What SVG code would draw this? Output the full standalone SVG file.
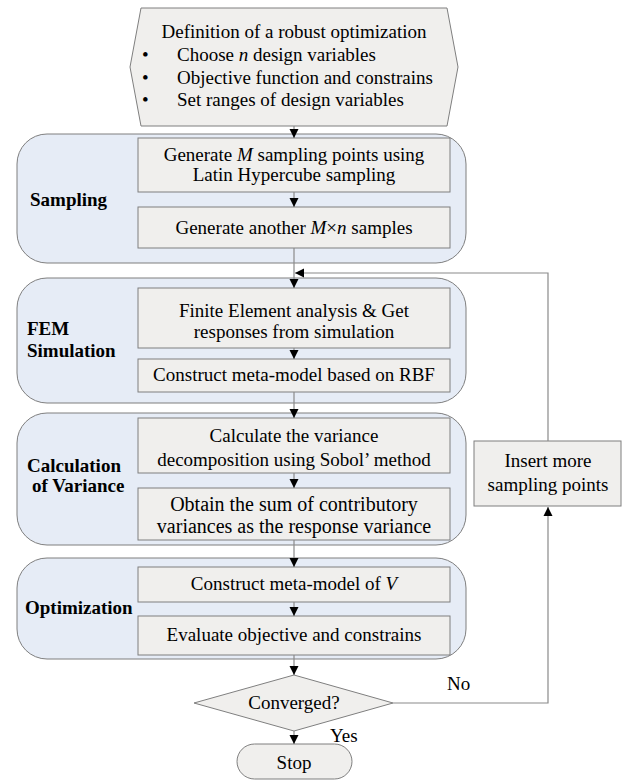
<svg xmlns="http://www.w3.org/2000/svg" width="624" height="780" viewBox="0 0 624 780" font-family="'Liberation Serif', 'DejaVu Serif', serif">
<style>
text{font-family:'Liberation Serif','DejaVu Serif',serif;font-size:19px;fill:#000}
.c{text-anchor:middle}
.b{font-weight:bold}
.panel{fill:#e6ecf6;stroke:#7f7f7f;stroke-width:1}
.box{fill:#f0efed;stroke:#7f7f7f;stroke-width:1}
.ln{fill:none;stroke:#8a8a8a;stroke-width:1.2}
</style>
<defs>
<marker id="ah" markerWidth="10" markerHeight="10" refX="9" refY="5" orient="auto" markerUnits="userSpaceOnUse">
<path d="M0,0.5 L9,5 L0,9.5 z" fill="#000"/>
</marker>
</defs>
<rect width="624" height="780" fill="#fff"/>
<g id="panels">
<rect id="p-sampling" class="panel" x="17" y="134" width="449" height="129" rx="30"/>
<rect id="p-fem" class="panel" x="17" y="278" width="449" height="125" rx="30"/>
<rect id="p-calc" class="panel" x="17" y="413" width="449" height="132" rx="30"/>
<rect id="p-opt" class="panel" x="17" y="558" width="449" height="101" rx="30"/>
<text class="b" x="30" y="206">Sampling</text>
<text class="b" x="27" y="335">FEM</text>
<text class="b" x="27" y="357">Simulation</text>
<text class="b" x="27" y="472">Calculation</text>
<text class="b" x="32" y="492">of Variance</text>
<text class="b" x="25" y="614">Optimization</text>
</g>
<g id="start">
<polygon class="box" points="141,8 447,8 458,67 447,126 141,126 130,67"/>
<text class="c" x="294" y="38">Definition of a robust optimization</text>
<text x="142" y="61">•</text><text x="177" y="61">Choose <tspan font-style="italic">n</tspan> design variables</text>
<text x="142" y="84">•</text><text x="177" y="84">Objective function and constrains</text>
<text x="142" y="106">•</text><text x="177" y="106">Set ranges of design variables</text>
</g>
<g id="box1"><rect class="box" x="138" y="138" width="312" height="54"/>
<text class="c" x="294" y="161">Generate <tspan font-style="italic">M</tspan> sampling points using</text>
<text class="c" x="294" y="181">Latin Hypercube sampling</text></g>
<g id="box2"><rect class="box" x="138" y="207" width="312" height="41"/>
<text class="c" x="294" y="234">Generate another <tspan font-style="italic">M</tspan>×<tspan font-style="italic">n</tspan> samples</text></g>
<g id="box3"><rect class="box" x="138" y="288" width="312" height="60"/>
<text class="c" x="294" y="317">Finite Element analysis &amp; Get</text>
<text class="c" x="294" y="338">responses from simulation</text></g>
<g id="box4"><rect class="box" x="138" y="359" width="312" height="33"/>
<text class="c" x="294" y="381">Construct meta-model based on RBF</text></g>
<g id="box5"><rect class="box" x="138" y="418" width="312" height="55"/>
<text class="c" x="294" y="442">Calculate the variance</text>
<text class="c" x="294" y="466">decomposition using Sobol’ method</text></g>
<g id="box6"><rect class="box" x="138" y="488" width="312" height="52"/>
<text class="c" x="294" y="511" style="font-size:20px">Obtain the sum of contributory</text>
<text class="c" x="294" y="533" style="font-size:20px">variances as the response variance</text></g>
<g id="box7"><rect class="box" x="138" y="567" width="312" height="35"/>
<text class="c" x="294" y="590">Construct meta-model of <tspan font-style="italic">V</tspan></text></g>
<g id="box8"><rect class="box" x="138" y="616" width="312" height="39"/>
<text class="c" x="294" y="641">Evaluate objective and constrains</text></g>
<g id="decision"><polygon class="box" points="294,675 393,703 294,731 194,703"/>
<text class="c" x="294" y="709">Converged?</text></g>
<g id="stop"><rect class="box" x="237" y="744" width="115" height="35" rx="17.5"/>
<text class="c" x="294" y="769">Stop</text></g>
<g id="insert"><rect class="box" x="474" y="441" width="147" height="65"/>
<text class="c" x="548" y="467">Insert more</text>
<text class="c" x="548" y="491">sampling points</text></g>
<g id="connectors">
<line class="ln" x1="294" y1="126" x2="294" y2="138" marker-end="url(#ah)"/>
<line class="ln" x1="294" y1="192" x2="294" y2="207" marker-end="url(#ah)"/>
<line class="ln" x1="294" y1="248" x2="294" y2="288" marker-end="url(#ah)"/>
<line class="ln" x1="294" y1="348" x2="294" y2="359" marker-end="url(#ah)"/>
<line class="ln" x1="294" y1="392" x2="294" y2="418" marker-end="url(#ah)"/>
<line class="ln" x1="294" y1="473" x2="294" y2="488" marker-end="url(#ah)"/>
<line class="ln" x1="294" y1="540" x2="294" y2="567" marker-end="url(#ah)"/>
<line class="ln" x1="294" y1="602" x2="294" y2="616" marker-end="url(#ah)"/>
<line class="ln" x1="294" y1="655" x2="294" y2="675" marker-end="url(#ah)"/>
<line class="ln" x1="294" y1="731" x2="294" y2="744" marker-end="url(#ah)"/>
<polyline class="ln" points="393,703 548,703 548,507" marker-end="url(#ah)"/>
<polyline class="ln" points="548,441 548,273 295,273" marker-end="url(#ah)"/>
<text x="447" y="690">No</text>
<text x="330" y="742">Yes</text>
</g>
</svg>
